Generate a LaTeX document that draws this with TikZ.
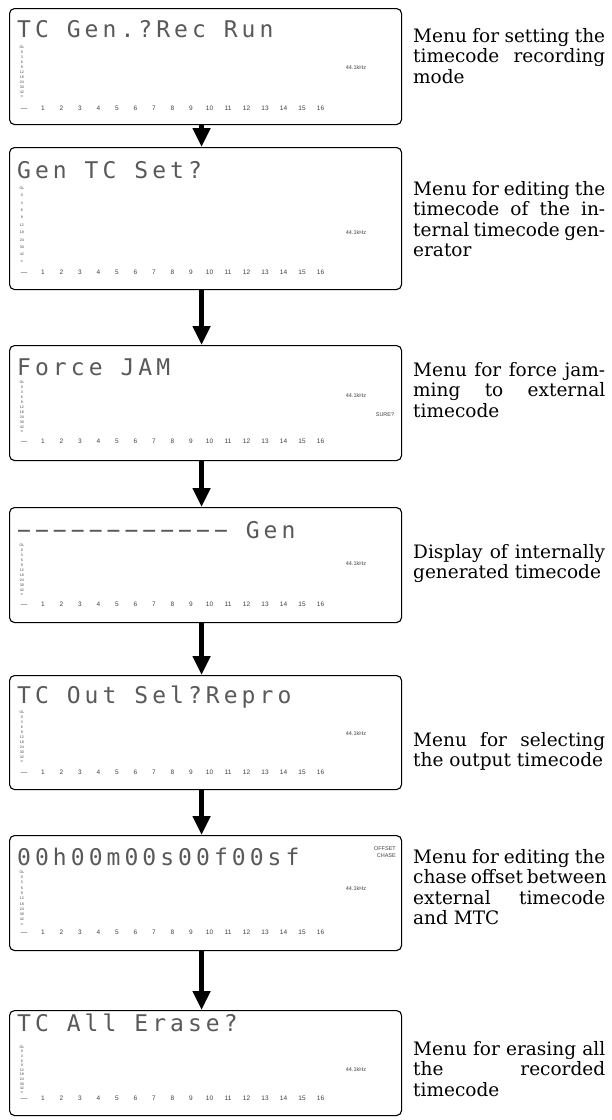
\documentclass[tikz,border=0pt]{standalone}
\usepackage{fontspec}
\usetikzlibrary{arrows.meta}
\setmainfont{DejaVu Serif}
\newfontfamily\lcdfont[LetterSpace=17.6]{DejaVu Sans Mono}
\newfontfamily\labfont{Liberation Sans}
\newcommand\jl[1]{\makebox[192pt][s]{#1}}
\tikzset{
 lcdbox/.style={draw=black, line width=1.1pt, rounded corners=5pt, minimum width=392pt, inner sep=0pt},
 lcdtitle/.style={font=\fontsize{23}{23}\lcdfont, text=black!65, inner sep=0pt},
 scalelab/.style={font=\fontsize{3.6}{3.6}\labfont, text=black!75, inner sep=0pt},
 numlab/.style={font=\fontsize{6.5}{6.5}\labfont, text=black!75, inner sep=0pt},
 khz/.style={font=\fontsize{5.5}{6.5}\labfont, text=black!75, inner sep=0pt},
 desc/.style={font=\fontsize{18.5}{20.5}\selectfont, anchor=north west, align=left, inner sep=0pt},
 flow/.style={line width=4.5pt, -{Triangle[width=17pt,length=19pt]}},
}
\newcommand\lcdpanel[9]{%
  \node[lcdbox, minimum height={#3-#2}, anchor=north west] (#1) at (9,#2) {};
  \node[lcdtitle, anchor=base west] (#1-title) at (17,{#5+8.5}) {#4};
  \foreach \lab [count=\ii from 0] in {OL,0,3,6,9,12,18,24,30,42,∞}
    \node[scalelab] (#1-s\ii) at (22,{#6+\ii*(#7-#6)/10}) {\lab};
  \node[khz] (#1-khz) at (356,#8) {44.1kHz};
  \node[numlab, anchor=base] (#1-dash) at (24,{#9+2.5}) {—};
  \foreach \n in {1,...,16}
    \node[numlab, anchor=base] (#1-n\n) at ({43+(\n-1)*18.5},{#9+2.5}) {\n};
}
\begin{document}
\begin{tikzpicture}[x=1pt,y=-1pt]
\fill[white] (0,0) rectangle (612,1120);
\useasboundingbox (0,0) rectangle (612,1120);

\lcdpanel{b1}{8}{124}{TC Gen.?Rec Run}{29}{47}{97}{68}{108}
\lcdpanel{b2}{147}{289}{Gen TC Set?}{170}{188}{262}{233}{272}
\lcdpanel{b3}{345}{460}{Force JAM}{367}{382}{432}{395}{441}
\lcdpanel{b4}{507}{622}{−−−−−−−−−−−− Gen}{530}{545}{595}{563}{604}
\lcdpanel{b5}{675}{789}{TC Out Sel?Repro}{695}{712}{762}{733}{772}
\lcdpanel{b6}{835}{950}{00h00m00s00f00sf}{857}{872}{925}{888}{932}
\lcdpanel{b7}{1010}{1115}{TC All Erase?}{1023}{1047}{1093}{1069}{1098}

\node[khz] (b3-sure) at (385,415) {SURE?};
\node[khz, align=right, anchor=east] (b6-oc) at (396,852) {OFFSET\\CHASE};

\draw[flow] ([xshift=-4pt]b1.south) -- ([xshift=-4pt]b2.north);
\draw[flow] ([xshift=-4pt]b2.south) -- ([xshift=-4pt]b3.north);
\draw[flow] ([xshift=-4pt]b3.south) -- ([xshift=-4pt]b4.north);
\draw[flow] ([xshift=-4pt]b4.south) -- ([xshift=-4pt]b5.north);
\draw[flow] ([xshift=-4pt]b5.south) -- ([xshift=-4pt]b6.north);
\draw[flow] ([xshift=-4pt]b6.south) -- ([xshift=-4pt]b7.north);

\node[desc] (d1) at (413,28) {\jl{Menu for setting the}\\\jl{timecode recording}\\mode};
\node[desc] (d2) at (413,181) {\jl{Menu for editing the}\\\jl{timecode of the in-}\\\jl{ternal timecode gen-}\\erator};
\node[desc] (d3) at (413,362) {\jl{Menu for force jam-}\\\jl{ming to external}\\timecode};
\node[desc] (d4) at (413,544) {\jl{Display of internally}\\generated timecode};
\node[desc] (d5) at (413,732) {\jl{Menu for selecting}\\the output timecode};
\node[desc] (d6) at (413,849) {\jl{Menu for editing the}\\\jl{chase offset between}\\\jl{external timecode}\\and MTC};
\node[desc] (d7) at (413,1041) {\jl{Menu for erasing all}\\\jl{the recorded}\\timecode};
\end{tikzpicture}
\end{document}
